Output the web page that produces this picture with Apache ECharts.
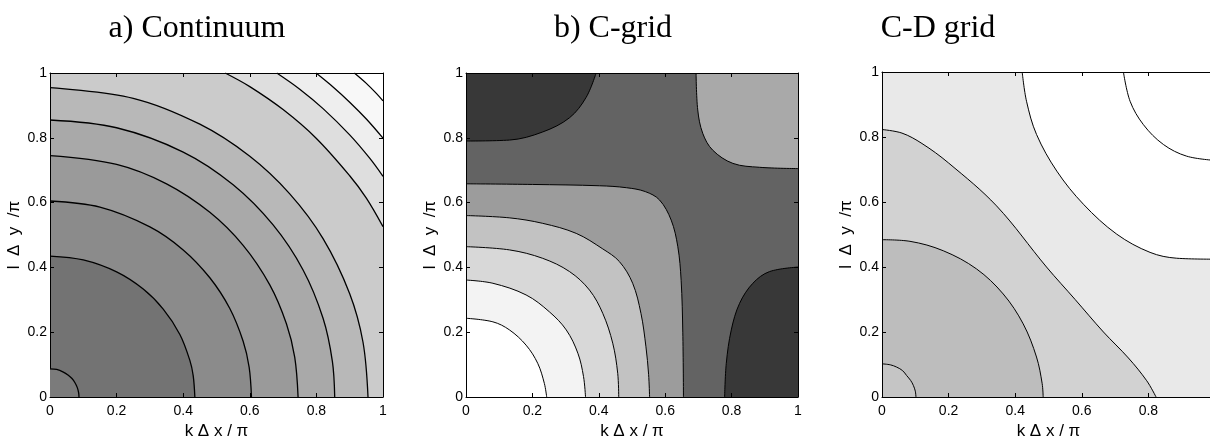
<!DOCTYPE html>
<html><head><meta charset="utf-8">
<script src="https://cdn.jsdelivr.net/npm/echarts@6/dist/echarts.min.js"></script>
<style>html,body{margin:0;padding:0;background:#fff;overflow:hidden}#c{width:1210px;height:441px}</style>
</head><body><div id="c"></div>
<script>
// ---------- text ----------
const panelTitles = ['a) Continuum', 'b) C-grid', 'C-D grid'];
const xAxisTitle = 'k Δ x / π';
const yAxisTitle = 'l  Δ  y  /π';
const tickValues = [0, 0.2, 0.4, 0.6, 0.8, 1];

// ---------- panel a: continuum contours [kΔx/π, lΔy/π] ----------
const aIn087 = [[0,0.087],[0.02,0.085],[0.04,0.077],[0.055,0.067],[0.066,0.057],[0.075,0.044],[0.082,0.029],[0.086,0.013],[0.087,0]];
const aIn435 = [[0,0.435],[0.1,0.423],[0.2,0.386],[0.28,0.333],[0.34,0.271],[0.39,0.193],[0.42,0.113],[0.43,0.066],[0.435,0]];
const aIn605 = [[0,0.605],[0.15,0.586],[0.3,0.525],[0.4,0.454],[0.48,0.368],[0.54,0.273],[0.58,0.172],[0.598,0.092],[0.605,0]];
const aIn745 = [[0,0.745],[0.2,0.718],[0.35,0.658],[0.48,0.57],[0.58,0.468],[0.66,0.346],[0.71,0.226],[0.735,0.122],[0.745,0]];
const aIn855 = [[0,0.855],[0.2,0.831],[0.4,0.756],[0.55,0.655],[0.67,0.531],[0.76,0.392],[0.82,0.243],[0.848,0.11],[0.855,0]];
const aIn955 = [[0,0.955],[0.25,0.922],[0.45,0.842],[0.6,0.743],[0.72,0.627],[0.82,0.489],[0.9,0.319],[0.94,0.169],[0.955,0]];
const aOut113 = [[0.526,1],[0.6,0.958],[0.7,0.887],[0.8,0.798],[0.9,0.683],[0.95,0.614],[1,0.526]];
const aOut121 = [[0.681,1],[0.75,0.95],[0.82,0.89],[0.9,0.809],[0.96,0.737],[1,0.681]];
const aOut128 = [[0.799,1],[0.85,0.957],[0.9,0.91],[0.95,0.858],[1,0.799]];
const aOut136 = [[0.914,1],[0.95,0.968],[0.98,0.937],[1,0.914]];

// ---------- panel b: C-grid contours ----------
const bIn1 = [[0,0.243],[0.081,0.232],[0.131,0.207],[0.181,0.16],[0.216,0.104],[0.236,0.042],[0.243,0]];
const bIn2 = [[0,0.361],[0.081,0.351],[0.181,0.315],[0.251,0.263],[0.302,0.207],[0.337,0.135],[0.354,0.063],[0.36,0]];
const bIn3 = [[0,0.464],[0.131,0.454],[0.231,0.428],[0.312,0.387],[0.372,0.33],[0.412,0.258],[0.442,0.166],[0.457,0.073],[0.46,0]];
const bIn4 = [[0,0.56],[0.13,0.553],[0.231,0.536],[0.332,0.505],[0.412,0.457],[0.462,0.418],[0.502,0.351],[0.527,0.258],[0.542,0.155],[0.55,0.07],[0.553,0]];
const bIn5 = [[0,0.658],[0.2,0.656],[0.402,0.652],[0.483,0.646],[0.54,0.634],[0.583,0.608],[0.618,0.546],[0.638,0.464],[0.648,0.36],[0.653,0.2],[0.655,0]];
const bTopLeft = [[0,0.79],[0.131,0.793],[0.231,0.818],[0.312,0.862],[0.362,0.925],[0.392,1]];
const bTopRight = [[0.693,1],[0.698,0.886],[0.713,0.814],[0.743,0.762],[0.804,0.721],[0.884,0.709],[1,0.705]];
const bBottomRight = [[0.779,0],[0.784,0.104],[0.799,0.207],[0.824,0.289],[0.864,0.351],[0.914,0.387],[1,0.401]];

// ---------- panel c: C-D grid contours ----------
const cIn1 = [[0,0.102],[0.025,0.099],[0.044,0.092],[0.062,0.081],[0.074,0.066],[0.086,0.051],[0.094,0.036],[0.1,0.018],[0.102,0]];
const cIn2 = [[0,0.484],[0.084,0.479],[0.184,0.45],[0.284,0.394],[0.364,0.317],[0.424,0.225],[0.464,0.123],[0.481,0.041],[0.484,0]];
const cIn3 = [[0,0.823],[0.06,0.812],[0.12,0.78],[0.2,0.72],[0.344,0.588],[0.494,0.4],[0.58,0.3],[0.665,0.2],[0.74,0.12],[0.795,0.05],[0.823,0]];
const cOut1 = [[0.421,1],[0.434,0.91],[0.464,0.808],[0.525,0.695],[0.605,0.593],[0.705,0.501],[0.805,0.445],[0.885,0.427],[1,0.424]];
const cOut2 = [[0.725,1],[0.745,0.91],[0.785,0.838],[0.845,0.777],[0.915,0.741],[1,0.728]];

// ---------- styles (layers painted in order) ----------
const panelStyles = [
  { grid: {left: 50, top: 73, width: 333, height: 324}, bg: '#cbcbcb', lw: 1.3, titleX: 197,
    layers: [[aOut113,'#dedede','end'],[aOut121,'#eeeeee','end'],[aOut128,'#f8f8f8','end'],[aOut136,'#ffffff','end'],
             [aIn955,'#b8b8b8','start'],[aIn855,'#a9a9a9','start'],[aIn745,'#9a9a9a','start'],
             [aIn605,'#8b8b8b','start'],[aIn435,'#737373','start'],[aIn087,'#7b7b7b','start']] },
  { grid: {left: 466, top: 73, width: 332, height: 324}, bg: '#636363', lw: 1, titleX: 613,
    layers: [[bTopLeft,'#383838','end'],[bTopRight,'#a9a9a9','end'],[bBottomRight,'#383838','start'],
             [bIn5,'#9c9c9c','start'],[bIn4,'#c2c2c2','start'],[bIn3,'#d8d8d8','start'],
             [bIn2,'#f3f3f3','start'],[bIn1,'#ffffff','start']] },
  { grid: {left: 882, top: 72, width: 333, height: 325}, bg: '#e9e9e9', lw: 1, titleX: 938,
    layers: [[cOut1,'#ffffff','end'],[cOut2,'#ffffff','end'],
             [cIn3,'#d2d2d2','start'],[cIn2,'#bdbdbd','start'],[cIn1,'#c5c5c5','start']] }
];

const FONT = 'Liberation Sans';
const grids = [], xAxes = [], yAxes = [], series = [], graphics = [];
panelStyles.forEach((p, i) => {
  grids.push(Object.assign({show: true, backgroundColor: p.bg, borderWidth: 0,
    containLabel: false, outerBoundsMode: 'none'}, p.grid));
  const base = {gridIndex: i, type: 'value', min: tickValues[0], max: tickValues[tickValues.length-1],
    interval: tickValues[1] - tickValues[0], z: 10,
    axisLine: {show: true, onZero: false, lineStyle: {color: '#000', width: 1}},
    axisTick: {show: true, inside: true, length: 4, lineStyle: {color: '#000'}},
    splitLine: {show: false}};
  xAxes.push(Object.assign({}, base, {position: 'bottom',
    axisLabel: {color: '#000', fontSize: 14, fontFamily: FONT, margin: 7},
    name: xAxisTitle, nameLocation: 'middle', nameGap: 20,
    nameTextStyle: {color: '#000', fontSize: 17, fontFamily: FONT}}));
  xAxes.push(Object.assign({}, base, {position: 'top', axisLabel: {show: false}}));
  yAxes.push(Object.assign({}, base, {position: 'left',
    axisLabel: {color: '#000', fontSize: 14, fontFamily: FONT, margin: 3},
    name: yAxisTitle, nameLocation: 'middle', nameGap: 27,
    nameTextStyle: {color: '#000', fontSize: 17, fontFamily: FONT}}));
  yAxes.push(Object.assign({}, base, {position: 'right', axisLabel: {show: false}}));
  p.layers.forEach((L, k) => {
    series.push({type: 'line', xAxisIndex: 2*i, yAxisIndex: 2*i, data: L[0], smooth: 0.35,
      showSymbol: false, symbol: 'none', silent: true, clip: true, z: 2 + k,
      lineStyle: {color: '#000', width: p.lw},
      areaStyle: {color: L[1], opacity: 1, origin: L[2]}});
  });
  graphics.push({type: 'text', x: p.titleX, y: 29, silent: true,
    style: {text: panelTitles[i], fill: '#000', font: '32px "Liberation Serif"',
      textAlign: 'center', textVerticalAlign: 'middle'}});
});

const chart = echarts.init(document.getElementById('c'), null, {renderer: 'canvas'});
chart.setOption({animation: false, backgroundColor: '#fff', grid: grids, xAxis: xAxes, yAxis: yAxes,
  series: series, graphic: graphics});
</script></body></html>
